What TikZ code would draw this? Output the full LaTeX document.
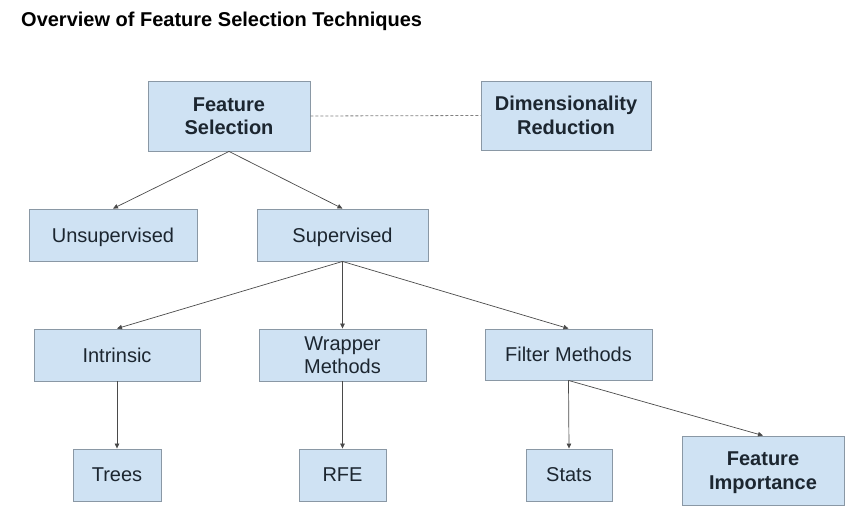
\documentclass[tikz,border=0pt]{standalone}
\usepackage{fontspec}
\setsansfont{Liberation Sans}
\usepackage{tikz}
\usetikzlibrary{arrows.meta}
\definecolor{boxfill}{HTML}{CFE2F3}
\definecolor{boxline}{HTML}{8A98A5}
\definecolor{linkgray}{HTML}{4A4A4A}
\definecolor{textdark}{HTML}{1C2630}

\begin{document}
\begin{tikzpicture}[x=1pt, y=-1pt, font=\sffamily\fontsize{20}{23.5}\selectfont]
	\tikzset{
		box/.style={draw=boxline, fill=boxfill, line width=0.9pt, text=textdark, align=center, inner sep=0pt, text depth=0pt},
		boldbox/.style={box, font=\sffamily\bfseries\fontsize{20}{23.5}\selectfont},
		link/.style={draw=linkgray, line width=0.7pt, -{Triangle[length=5pt, width=4.5pt]}},
	}
	\useasboundingbox (0,0) rectangle (863,522);

	% title
	\node[anchor=base west, inner sep=0pt, font=\sffamily\bfseries\fontsize{20}{24}\selectfont] (title) at (21,27) {Overview of Feature Selection Techniques};

	% top row
	\node[boldbox, minimum width=162pt, minimum height=70pt] (featsel) at (229,116) {Feature\\Selection};
	\node[boldbox, minimum width=170pt, minimum height=69pt] (dimred) at (566,115.5) {Dimensionality\\Reduction};

	% second row
	\node[box, minimum width=168pt, minimum height=52pt] (unsup) at (113,235) {Unsupervised};
	\node[box, minimum width=171pt, minimum height=52pt] (sup) at (342.5,235) {Supervised};

	% third row
	\node[box, minimum width=166pt, minimum height=52pt] (intrinsic) at (117,355) {Intrinsic};
	\node[box, minimum width=167pt, minimum height=52pt] (wrapper) at (342.5,355) {Wrapper\\Methods};
	\node[box, minimum width=167pt, minimum height=51pt] (filter) at (568.5,354.5) {Filter Methods};

	% leaves
	\node[box, minimum width=88pt, minimum height=52pt] (trees) at (117,475) {Trees};
	\node[box, minimum width=87pt, minimum height=52pt] (rfe) at (342.5,475) {RFE};
	\node[box, minimum width=86pt, minimum height=52pt] (stats) at (569,475) {Stats};
	\node[boldbox, minimum width=162pt, minimum height=69pt] (featimp) at (763,470.5) {Feature\\Importance};

	% connectors
	\draw[draw=gray, line width=0.8pt, dash pattern=on 3pt off 2pt] (featsel.east) -- (dimred.west);
	\draw[link] (featsel.south) -- (unsup.north);
	\draw[link] (featsel.south) -- (sup.north);
	\draw[link] (sup.south) -- (intrinsic.north);
	\draw[link] (sup.south) -- (wrapper.north);
	\draw[link] (sup.south) -- (filter.north);
	\draw[link] (intrinsic.south) -- (trees.north);
	\draw[link] (wrapper.south) -- (rfe.north);
	\draw[link] (filter.south) -- (stats.north);
	\draw[link] (filter.south) -- (featimp.north);
\end{tikzpicture}
\end{document}
